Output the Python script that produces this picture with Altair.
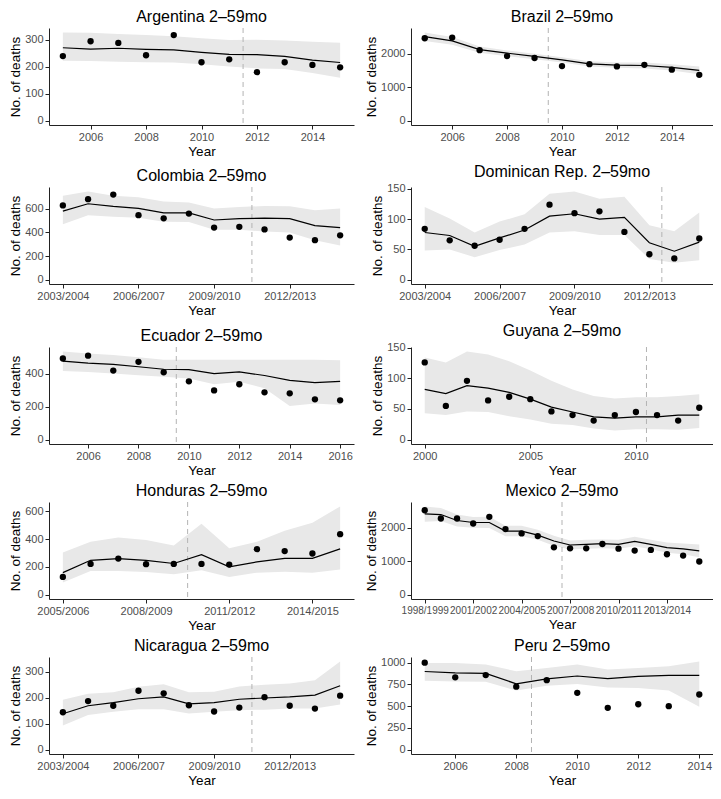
import json
import altair as alt
import pandas as pd

FONT = "Liberation Sans"

# ---------------- data ----------------
ARG_X = [2005, 2006, 2007, 2008, 2009, 2010, 2011, 2012, 2013, 2014, 2015]
ARG_OBS = [240, 295, 289, 243, 318, 217, 228, 180, 217, 207, 198]
ARG_FIT = [271, 266, 269, 265, 263, 254, 246, 245, 239, 225, 216]
ARG_LO = [223, 222, 219, 217, 216, 210, 201, 194, 192, 177, 159]
ARG_HI = [328, 327, 322, 318, 314, 306, 300, 301, 298, 293, 290]

BRA_X = [2005, 2006, 2007, 2008, 2009, 2010, 2011, 2012, 2013, 2014, 2015]
BRA_OBS = [2466, 2485, 2107, 1932, 1874, 1631, 1689, 1621, 1670, 1524, 1369]
BRA_FIT = [2515, 2388, 2126, 2019, 1922, 1816, 1699, 1660, 1650, 1592, 1505]
BRA_LO = [2380, 2270, 2030, 1930, 1840, 1740, 1620, 1580, 1560, 1500, 1390]
BRA_HI = [2640, 2500, 2220, 2100, 2000, 1900, 1780, 1740, 1740, 1690, 1620]

COL_LABELS = ["2003/2004", "2004/2005", "2005/2006", "2006/2007", "2007/2008", "2008/2009",
              "2009/2010", "2010/2011", "2011/2012", "2012/2013", "2013/2014", "2014/2015"]
COL_OBS = [630, 683, 722, 547, 520, 561, 442, 448, 426, 357, 335, 376]
COL_FIT = [581, 644, 622, 605, 567, 567, 506, 517, 522, 517, 459, 442]
COL_LO = [470, 547, 534, 525, 492, 489, 423, 423, 409, 401, 335, 290]
COL_HI = [713, 749, 713, 700, 664, 655, 603, 617, 625, 622, 589, 603]

DOM_LABELS = COL_LABELS
DOM_OBS = [84, 65, 56, 66, 84, 124, 110, 113, 79, 42, 35, 68]
DOM_FIT = [78, 73, 55, 69, 82, 105, 109, 100, 103, 61, 47, 62]
DOM_LO = [48, 50, 37, 49, 58, 78, 80, 74, 74, 34, 28, 32]
DOM_HI = [120, 101, 78, 96, 108, 142, 146, 134, 137, 90, 80, 111]

ECU_X = [2005, 2006, 2007, 2008, 2009, 2010, 2011, 2012, 2013, 2014, 2015, 2016]
ECU_OBS = [491, 508, 418, 471, 408, 353, 298, 335, 286, 280, 244, 238]
ECU_FIT = [475, 463, 455, 441, 426, 424, 400, 410, 388, 359, 345, 353]
ECU_LO = [416, 410, 400, 390, 380, 370, 335, 351, 311, 203, 219, 209]
ECU_HI = [534, 522, 512, 498, 483, 483, 483, 483, 483, 483, 483, 481]

GUY_X = [2000, 2001, 2002, 2003, 2004, 2005, 2006, 2007, 2008, 2009, 2010, 2011, 2012, 2013]
GUY_OBS = [126, 55, 96, 64, 70, 66, 46, 40, 31, 40, 45, 40, 31, 52]
GUY_FIT = [82, 75, 88, 84, 77, 66, 53, 45, 37, 35, 37, 37, 40, 40]
GUY_LO = [43, 40, 46, 45, 38, 33, 26, 24, 18, 15, 17, 17, 16, 19]
GUY_HI = [134, 126, 144, 139, 128, 113, 96, 82, 71, 67, 69, 69, 71, 74]

HON_LABELS = ["2005/2006", "2006/2007", "2007/2008", "2008/2009", "2009/2010", "2010/2011",
              "2011/2012", "2012/2013", "2013/2014", "2014/2015", "2015/2016"]
HON_OBS = [127, 221, 259, 219, 221, 221, 216, 327, 313, 296, 435]
HON_FIT = [158, 247, 259, 247, 224, 287, 200, 235, 261, 261, 329]
HON_LO = [87, 169, 169, 162, 146, 176, 127, 158, 165, 158, 181]
HON_HI = [304, 381, 412, 393, 353, 511, 334, 381, 459, 518, 635]

MEX_LABELS = ["1998/1999", "1999/2000", "2000/2001", "2001/2002", "2002/2003", "2003/2004",
              "2004/2005", "2005/2006", "2006/2007", "2007/2008", "2008/2009", "2009/2010",
              "2010/2011", "2011/2012", "2012/2013", "2013/2014", "2014/2015", "2015/2016"]
MEX_OBS = [2525, 2277, 2277, 2129, 2327, 1960, 1832, 1752, 1416, 1386, 1386, 1515,
           1376, 1317, 1337, 1208, 1168, 990]
MEX_FIT = [2416, 2396, 2218, 2158, 2158, 1901, 1901, 1782, 1604, 1485, 1505, 1525,
           1505, 1594, 1505, 1406, 1366, 1307]
MEX_LO = [2180, 2200, 2040, 2000, 1990, 1750, 1750, 1640, 1460, 1350, 1370, 1390,
          1370, 1450, 1360, 1250, 1210, 1120]
MEX_HI = [2640, 2590, 2400, 2320, 2330, 2060, 2060, 1940, 1760, 1620, 1640, 1650,
          1640, 1730, 1640, 1560, 1530, 1500]

NIC_LABELS = COL_LABELS
NIC_OBS = [144, 187, 169, 227, 217, 171, 147, 162, 202, 169, 158, 208]
NIC_FIT = [138, 169, 181, 196, 203, 176, 181, 194, 199, 203, 210, 246]
NIC_LO = [93, 133, 146, 156, 156, 139, 146, 152, 154, 158, 158, 174]
NIC_HI = [192, 215, 221, 242, 252, 221, 223, 243, 250, 255, 267, 340]

PER_X = [2005, 2006, 2007, 2008, 2009, 2010, 2011, 2012, 2013, 2014]
PER_OBS = [1000, 832, 858, 724, 799, 653, 481, 522, 500, 634]
PER_FIT = [899, 884, 877, 757, 813, 847, 817, 843, 854, 854]
PER_LO = [791, 784, 780, 679, 735, 754, 716, 709, 679, 493]
PER_HI = [996, 996, 978, 903, 940, 978, 922, 940, 959, 1015]

LEFT_W = 305
RIGHT_W = 302
H = 97


def panel(title, x, obs, fit, lo, hi, cut, xticks, yticks, width, labels=None, xlab_size=11):
    df = pd.DataFrame({"x": x, "obs": obs, "fit": fit, "lo": lo, "hi": hi})
    span = max(x) - min(x)
    xdom = [min(x) - 0.05 * span, max(x) + 0.05 * span]
    top = max(max(hi), max(obs))
    ydom = [-0.05 * top, 1.05 * top]
    if labels is not None:
        xaxis = alt.Axis(values=xticks, title="Year", labelOverlap=False,
                         labelFontSize=xlab_size,
                         labelExpr=json.dumps(labels) + "[datum.value]")
    else:
        xaxis = alt.Axis(values=xticks, title="Year", format="d", labelOverlap=False)
    yaxis = alt.Axis(values=yticks, title="No. of deaths", format="d")
    xs = alt.Scale(domain=xdom, nice=False, zero=False)
    ys = alt.Scale(domain=ydom, nice=False, zero=False)
    base = alt.Chart(df)
    band = base.mark_area(color="#e8e8e8", opacity=1).encode(
        x=alt.X("x:Q", scale=xs, axis=xaxis),
        y=alt.Y("lo:Q", scale=ys, axis=yaxis),
        y2="hi:Q",
    )
    rule = alt.Chart(pd.DataFrame({"x": [cut]})).mark_rule(
        color="#b3b3b3", strokeDash=[5, 4], strokeWidth=1
    ).encode(x=alt.X("x:Q", scale=xs, axis=xaxis))
    line = base.mark_line(color="black", strokeWidth=1.2).encode(
        x=alt.X("x:Q", scale=xs, axis=xaxis),
        y=alt.Y("fit:Q", scale=ys, axis=yaxis),
    )
    pts = base.mark_circle(color="black", size=40, opacity=1).encode(
        x=alt.X("x:Q", scale=xs, axis=xaxis),
        y=alt.Y("obs:Q", scale=ys, axis=yaxis),
    )
    return alt.layer(band, rule, line, pts).properties(
        width=width, height=H, title=title
    )


idx12 = list(range(12))
idx11 = list(range(11))
idx18 = list(range(18))

charts = [
    panel("Argentina 2–59mo", ARG_X, ARG_OBS, ARG_FIT, ARG_LO, ARG_HI, 2011.5,
          [2006, 2008, 2010, 2012, 2014], [0, 100, 200, 300], LEFT_W),
    panel("Brazil 2–59mo", BRA_X, BRA_OBS, BRA_FIT, BRA_LO, BRA_HI, 2009.5,
          [2006, 2008, 2010, 2012, 2014], [0, 1000, 2000], RIGHT_W),
    panel("Colombia 2–59mo", idx12, COL_OBS, COL_FIT, COL_LO, COL_HI, 7.5,
          [0, 3, 6, 9], [0, 200, 400, 600], LEFT_W, COL_LABELS),
    panel("Dominican Rep. 2–59mo", idx12, DOM_OBS, DOM_FIT, DOM_LO, DOM_HI, 9.5,
          [0, 3, 6, 9], [0, 50, 100, 150], RIGHT_W, DOM_LABELS),
    panel("Ecuador 2–59mo", ECU_X, ECU_OBS, ECU_FIT, ECU_LO, ECU_HI, 2009.5,
          [2006, 2008, 2010, 2012, 2014, 2016], [0, 200, 400], LEFT_W),
    panel("Guyana 2–59mo", GUY_X, GUY_OBS, GUY_FIT, GUY_LO, GUY_HI, 2010.5,
          [2000, 2005, 2010], [0, 50, 100, 150], RIGHT_W),
    panel("Honduras 2–59mo", idx11, HON_OBS, HON_FIT, HON_LO, HON_HI, 4.5,
          [0, 3, 6, 9], [0, 200, 400, 600], LEFT_W, HON_LABELS),
    panel("Mexico 2–59mo", idx18, MEX_OBS, MEX_FIT, MEX_LO, MEX_HI, 8.5,
          [0, 3, 6, 9, 12, 15], [0, 1000, 2000], RIGHT_W, MEX_LABELS, 10),
    panel("Nicaragua 2–59mo", idx12, NIC_OBS, NIC_FIT, NIC_LO, NIC_HI, 7.5,
          [0, 3, 6, 9], [0, 100, 200, 300], LEFT_W, NIC_LABELS),
    panel("Peru 2–59mo", PER_X, PER_OBS, PER_FIT, PER_LO, PER_HI, 2008.5,
          [2006, 2008, 2010, 2012, 2014], [0, 250, 500, 750, 1000], RIGHT_W),
]

chart = alt.concat(*charts, columns=2, spacing=alt.RowColnumber(row=5, column=10)).properties(
    padding={"left": 0, "top": 0, "right": 0, "bottom": 0}
).configure_view(
    stroke=None
).configure_axis(
    grid=False,
    domainColor="#222222",
    domainWidth=1,
    tickColor="#222222",
    tickSize=4,
    labelColor="#4d4d4d",
    labelFont=FONT,
    labelFontSize=11,
    labelPadding=2,
    titleFont=FONT,
    titleFontSize=13.5,
    titleFontWeight="normal",
    titleColor="black",
    titlePadding=2,
).configure_title(
    font=FONT, fontSize=16, fontWeight="normal", anchor="middle", color="black", offset=3
)

chart.save("out.html", embed_options={"renderer": "svg", "actions": False})
